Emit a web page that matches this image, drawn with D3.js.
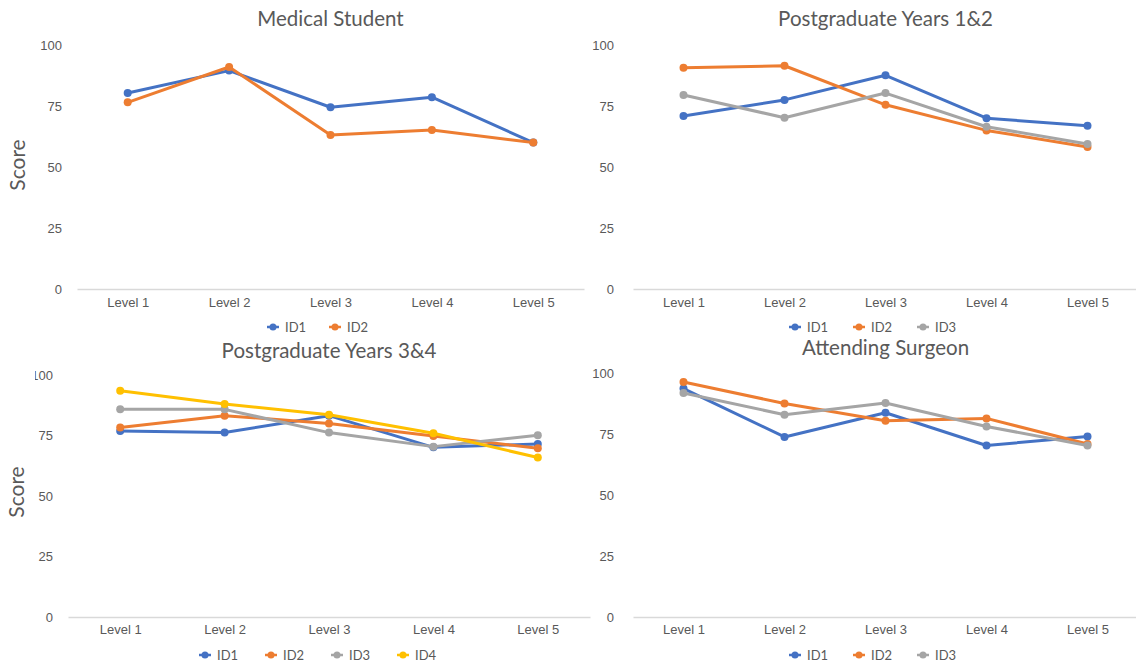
<!DOCTYPE html>
<html>
<head>
<meta charset="utf-8">
<script src="https://cdn.jsdelivr.net/npm/d3@7"></script>
<style>
  html, body { margin: 0; padding: 0; background: #ffffff; }
  svg { display: block; font-family: Lato, "Open Sans", sans-serif; }
  .tick text { fill: #595959; }
</style>
</head>
<body>
<svg id="chart" width="1136" height="663"></svg>
<script>
// Categories and tick values
const levels = ["Level 1", "Level 2", "Level 3", "Level 4", "Level 5"];
const yTicks = [0, 25, 50, 75, 100];
const seriesNames = ["ID1", "ID2", "ID3", "ID4"];
const seriesColors = ["#4472C4", "#ED7D31", "#A5A5A5", "#FFC000"];

// Medical Student
const medicalID1 = [80.3, 89.5, 74.5, 78.6, 60.0];
const medicalID2 = [76.5, 91.0, 63.1, 65.2, 60.0];

// Postgraduate Years 1&2
const pgy12ID1 = [70.9, 77.5, 87.6, 70.0, 66.9];
const pgy12ID2 = [90.7, 91.5, 75.5, 65.0, 58.2];
const pgy12ID3 = [79.5, 70.2, 80.3, 66.5, 59.4];

// Postgraduate Years 3&4
const pgy34ID1 = [76.9, 76.2, 83.2, 70.1, 71.5];
const pgy34ID2 = [78.3, 83.2, 80.0, 74.8, 69.7];
const pgy34ID3 = [85.8, 85.8, 76.2, 70.4, 75.1];
const pgy34ID4 = [93.5, 88.0, 83.6, 75.9, 65.9];

// Attending Surgeon
const attendingID1 = [93.6, 73.8, 83.7, 70.3, 74.0];
const attendingID2 = [96.3, 87.5, 80.4, 81.4, 70.9];
const attendingID3 = [91.8, 82.9, 87.7, 78.1, 70.3];

const textColor = "#595959";
const svg = d3.select("#chart");

// Panel frames (pixel layout of each small chart)
const panels = [
  { title: "Medical Student", series: [medicalID1, medicalID2],
    xl: 77, xr: 584, y0: 289, y100: 45, labelRight: 62, titleY: 26,
    tickPad: 9, legendY: 327, legendX: 273, legendStep: 62, yTitle: { x: 18, y: 165 } },
  { title: "Postgraduate Years 1&2", series: [pgy12ID1, pgy12ID2, pgy12ID3],
    xl: 633, xr: 1138, y0: 289, y100: 45, labelRight: 614, titleY: 26,
    tickPad: 9, legendY: 327, legendX: 795, legendStep: 64 },
  { title: "Postgraduate Years 3&4", series: [pgy34ID1, pgy34ID2, pgy34ID3, pgy34ID4],
    xl: 68, xr: 590, y0: 617, y100: 375, labelRight: 53, titleY: 358,
    tickPad: 8, legendY: 655, legendX: 205, legendStep: 66, yTitle: { x: 17, y: 492 },
    labelClip: 35 },
  { title: "Attending Surgeon", series: [attendingID1, attendingID2, attendingID3],
    xl: 633, xr: 1138, y0: 617, y100: 373, labelRight: 614, titleY: 355,
    tickPad: 8, legendY: 655, legendX: 795, legendStep: 64 }
];

panels.forEach((p, pi) => {
  const g = svg.append("g").attr("class", "panel");

  const x = d3.scalePoint().domain(levels).range([p.xl, p.xr]).padding(0.5);
  const y = d3.scaleLinear().domain([0, 100]).range([p.y0, p.y100]);

  // Title
  g.append("text")
    .attr("x", (p.xl + p.xr) / 2)
    .attr("y", p.titleY)
    .attr("text-anchor", "middle")
    .attr("fill", textColor)
    .style("font-size", "20.5px")
    .text(p.title);

  // Y axis labels (no axis line)
  let yGroup = g.append("g");
  if (p.labelClip !== undefined) {
    const id = "clip" + pi;
    svg.append("defs").append("clipPath").attr("id", id)
      .append("rect").attr("x", p.labelClip).attr("y", p.y100 - 20)
      .attr("width", 200).attr("height", p.y0 - p.y100 + 40);
    yGroup.attr("clip-path", `url(#${id})`);
  }
  yGroup.append("g")
    .attr("transform", `translate(${p.labelRight + 3},0)`)
    .call(d3.axisLeft(y).tickValues(yTicks).tickSize(0).tickPadding(3).tickFormat(d3.format("d")))
    .call(a => a.select(".domain").remove())
    .selectAll("text").style("font-size", "13px");

  // X axis baseline and category labels
  g.append("g")
    .attr("transform", `translate(0,${p.y0})`)
    .call(d3.axisBottom(x).tickSize(0).tickSizeOuter(0).tickPadding(p.tickPad))
    .call(a => a.select(".domain").attr("stroke", "#D9D9D9").attr("stroke-width", 1.3))
    .selectAll("text").style("font-size", "13px");

  // Y axis title
  if (p.yTitle) {
    g.append("text")
      .attr("transform", `translate(${p.yTitle.x},${p.yTitle.y}) rotate(-90)`)
      .attr("text-anchor", "middle")
      .attr("dy", "0.35em")
      .attr("fill", textColor)
      .style("font-size", "21px")
      .text("Score");
  }

  // Lines with markers
  const line = d3.line().x((d, i) => x(levels[i])).y(d => y(d));
  p.series.forEach((vals, si) => {
    const color = seriesColors[si];
    g.append("path")
      .datum(vals)
      .attr("d", line)
      .attr("fill", "none")
      .attr("stroke", color)
      .attr("stroke-width", 3)
      .attr("stroke-linejoin", "round");
    g.append("g").selectAll("circle")
      .data(vals)
      .join("circle")
      .attr("cx", (d, i) => x(levels[i]))
      .attr("cy", d => y(d))
      .attr("r", 4)
      .attr("fill", color);
  });

  // Legend
  const legend = g.append("g");
  p.series.forEach((vals, si) => {
    const lx = p.legendX + si * p.legendStep;
    const item = legend.append("g");
    item.append("line")
      .attr("x1", lx - 6).attr("x2", lx + 6)
      .attr("y1", p.legendY).attr("y2", p.legendY)
      .attr("stroke", seriesColors[si]).attr("stroke-width", 2.5);
    item.append("circle")
      .attr("cx", lx).attr("cy", p.legendY).attr("r", 3.5)
      .attr("fill", seriesColors[si]);
    item.append("text")
      .attr("x", lx + 12).attr("y", p.legendY)
      .attr("dy", "0.36em")
      .attr("fill", textColor)
      .style("font-size", "13px")
      .text(seriesNames[si]);
  });
});
</script>
</body>
</html>
